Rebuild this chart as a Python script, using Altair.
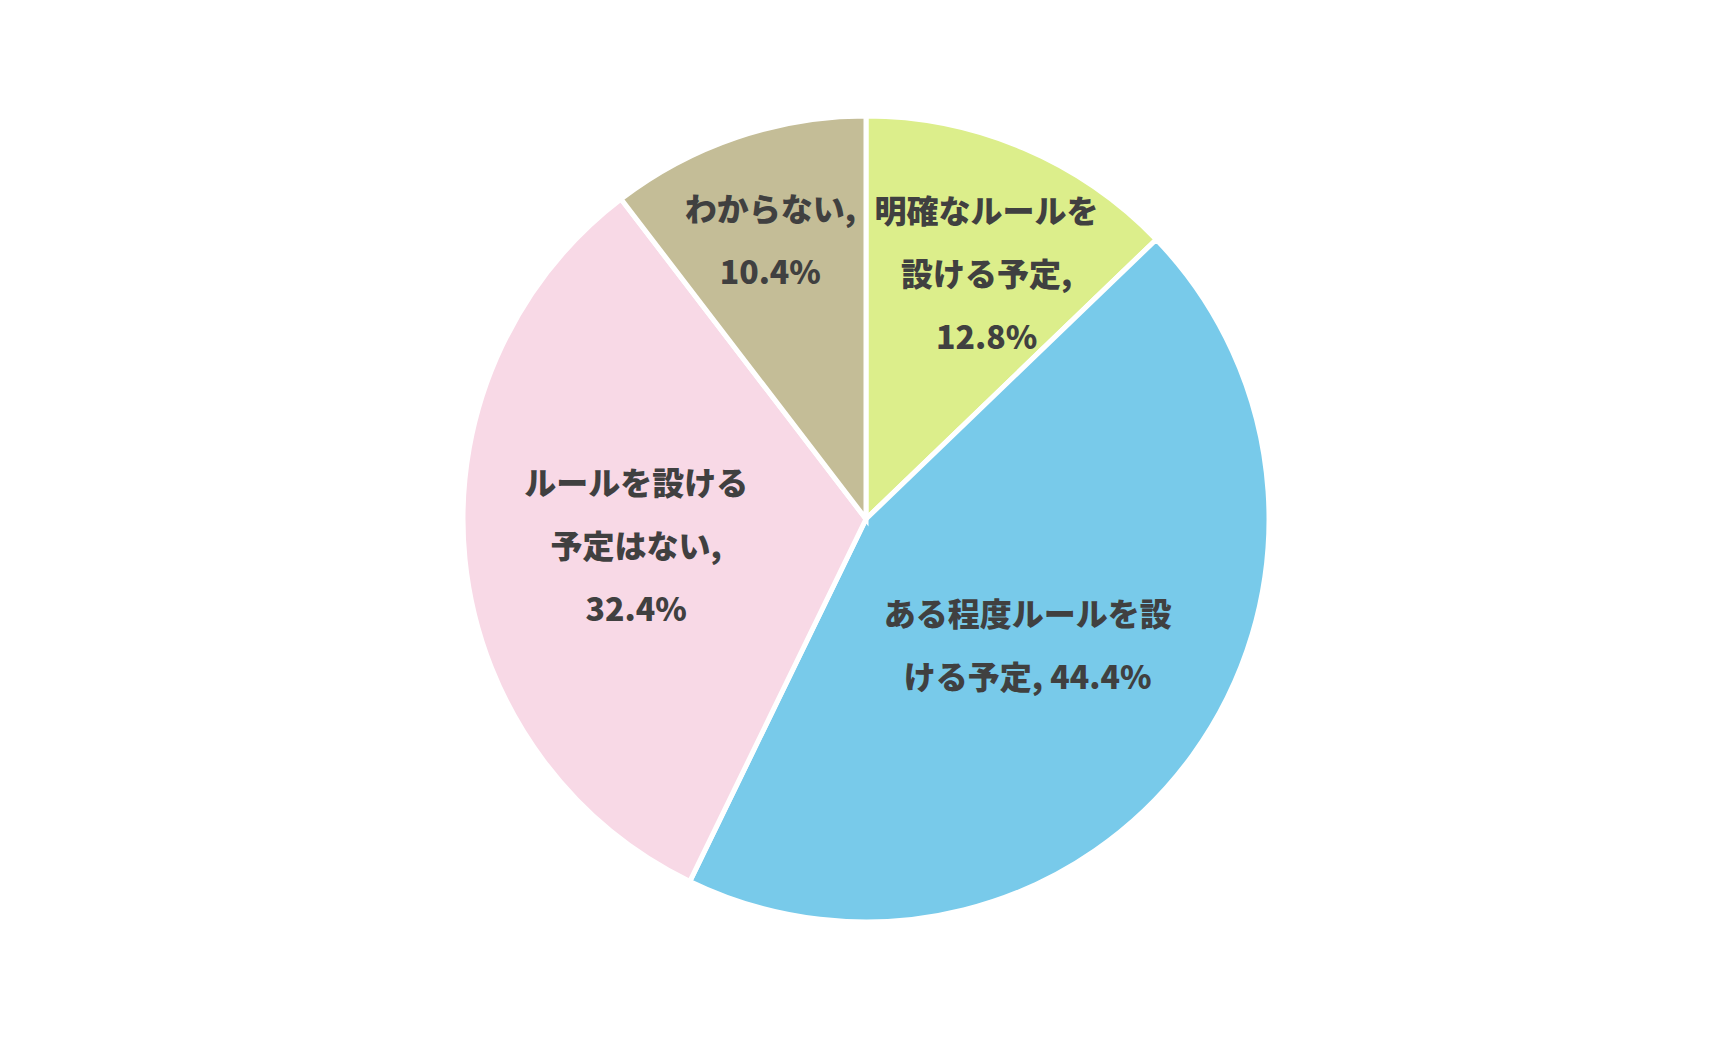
import altair as alt
import pandas as pd
import math

# ---- data ----
categories = [
    "明確なルールを設ける予定",
    "ある程度ルールを設ける予定",
    "ルールを設ける予定はない",
    "わからない",
]
values = [12.8, 44.4, 32.4, 10.4]
labels = [
    "明確なルールを\n設ける予定,\n12.8%",
    "ある程度ルールを設\nける予定, 44.4%",
    "ルールを設ける\n予定はない,\n32.4%",
    "わからない,\n10.4%",
]

# ---- styling ----
colors = ["#DCEE8B", "#78CAEA", "#F8D9E6", "#C4BD97"]
label_radius = [280, 206, 229, 292]
label_dx = [11, -5, -2, -2]
label_dy = [-48, -24, -57, -31]
R = 403
LH = 63

df = pd.DataFrame({
    "category": categories,
    "value": values,
    "label": labels,
    "idx": list(range(len(categories))),
    "lr": label_radius,
})

arcs = alt.Chart(df).mark_arc(outerRadius=R, stroke="white", strokeWidth=5).encode(
    theta=alt.Theta("value:Q", stack=True),
    order=alt.Order("idx:Q"),
    color=alt.Color(
        "category:N",
        scale=alt.Scale(domain=categories, range=colors),
        legend=None,
    ),
)

text_base = (
    alt.Chart(df)
    .transform_joinaggregate(total="sum(value)")
    .transform_window(cum="sum(value)", sort=[alt.SortField("idx", order="ascending")])
    .transform_calculate(
        mid=f"(datum.cum - datum.value / 2) / datum.total * {2 * math.pi}",
    )
)

def text_layer(i):
    return (
        text_base.transform_filter(f"datum.idx == {i}")
        .mark_text(
            font="Noto Sans CJK JP",
            fontWeight=900,
            fontSize=32,
            color="#404040",
            lineBreak="\n",
            lineHeight=LH,
            align="center",
            baseline="middle",
            dx=label_dx[i],
            dy=label_dy[i],
        )
        .encode(
            theta=alt.Theta("mid:Q", scale=None),
            radius=alt.Radius("lr:Q", scale=None),
            text="label:N",
        )
    )

chart = (
    alt.layer(arcs, *[text_layer(i) for i in range(len(categories))])
    .properties(
        width=2 * R,
        height=2 * R,
        autosize=alt.AutoSizeParams(type="none"),
        padding={"left": 455, "top": 108, "right": 10, "bottom": 10},
        background="white",
    )
    .configure_view(stroke=None)
)

chart.save("out.html", embed_options={"renderer": "svg", "actions": False})
